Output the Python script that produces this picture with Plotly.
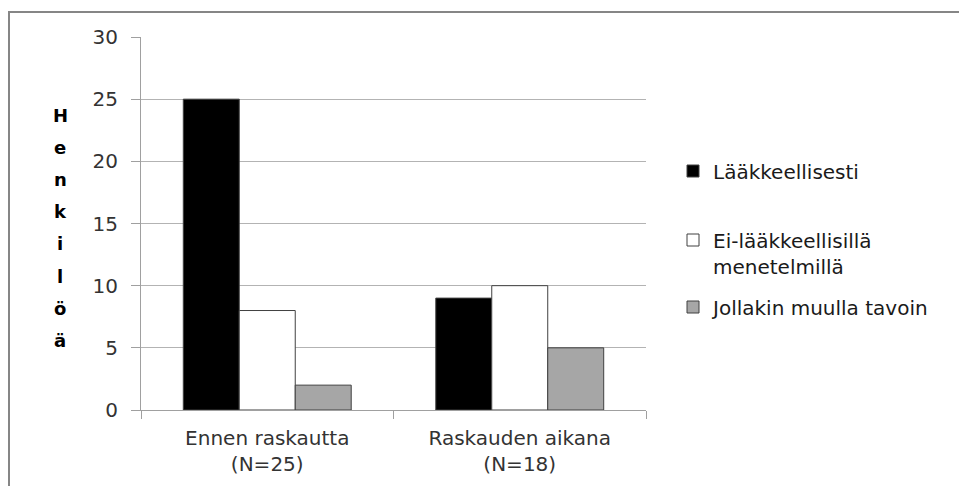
import plotly.graph_objects as go

# Category labels and counts per method
categories = ["Ennen raskautta<br>(N=25)", "Raskauden aikana<br>(N=18)"]
series_names = ["Lääkkeellisesti", "Ei-lääkkeellisillä<br>menetelmillä", "Jollakin muulla tavoin"]
laakkeellisesti = [25, 9]
ei_laakkeellisilla = [8, 10]
jollakin_muulla = [2, 5]
y_ticks = [0, 5, 10, 15, 20, 25, 30]
y_title = "Henkilöä"

series_values = [laakkeellisesti, ei_laakkeellisilla, jollakin_muulla]
fills = ["#000000", "#ffffff", "#a6a6a6"]
legend_ids = ["legend", "legend2", "legend3"]
legend_centers = [171, 253, 307]  # vertical centre of each legend entry, px

W, H = 959, 486
L, R, T, B = 141, 313, 37, 76
FONT = "DejaVu Sans"

pw = W - L - R
ph = H - T - B

def px_x(p):
    return (p - L) / pw

def px_y(p):
    return (H - B - p) / ph

fig = go.Figure()
for name, vals, col, lg in zip(series_names, series_values, fills, legend_ids):
    fig.add_trace(go.Bar(
        x=categories, y=vals, name=name, legend=lg,
        marker=dict(color=col, line=dict(color="#404040", width=1)),
    ))

legend_style = dict(
    x=px_x(673), xanchor="left", yanchor="middle",
    font=dict(family=FONT, size=20, color="#1a1a1a"),
    valign="top", itemwidth=30, bgcolor="rgba(0,0,0,0)",
)

# Vertical stacked axis title, one letter per line
annotations = []
for k, ch in enumerate(y_title):
    annotations.append(dict(
        x=px_x(60), y=px_y(115 + k * 32.2), xref="paper", yref="paper",
        text=f"<b>{ch}</b>", showarrow=False, xanchor="center", yanchor="middle",
        font=dict(family=FONT, size=18, color="#000000"),
    ))

fig.update_layout(
    width=W, height=H,
    margin=dict(l=L, r=R, t=T, b=B),
    paper_bgcolor="white", plot_bgcolor="white",
    barmode="group", bargap=0.335, bargroupgap=0,
    font=dict(family=FONT, size=16, color="#333333"),
    showlegend=True,
    legend=dict(legend_style, y=px_y(legend_centers[0])),
    legend2=dict(legend_style, y=px_y(legend_centers[1])),
    legend3=dict(legend_style, y=px_y(legend_centers[2])),
    annotations=annotations,
    shapes=[dict(
        type="rect", xref="paper", yref="paper",
        x0=px_x(9), x1=px_x(990), y0=px_y(12), y1=px_y(520),
        line=dict(color="#868686", width=2), fillcolor="rgba(0,0,0,0)", layer="below",
    )],
    xaxis=dict(
        automargin=False,
        showline=True, linecolor="#a0a0a0", linewidth=1,
        ticks="outside", ticklen=8, tickcolor="#a0a0a0", tickson="boundaries",
        tickfont=dict(family=FONT, size=20, color="#333333"),
        showgrid=False, ticklabelstandoff=10,
    ),
    yaxis=dict(
        automargin=False,
        range=[0, 30], tickvals=y_ticks,
        showline=True, linecolor="#a0a0a0", linewidth=1,
        ticks="outside", ticklen=9, tickcolor="#a0a0a0",
        showgrid=True, gridcolor="#b3b3b3", gridwidth=1,
        zeroline=False,
        tickfont=dict(family=FONT, size=20, color="#333333"),
        ticklabelstandoff=9,
    ),
)

fig.write_html("out.html")
